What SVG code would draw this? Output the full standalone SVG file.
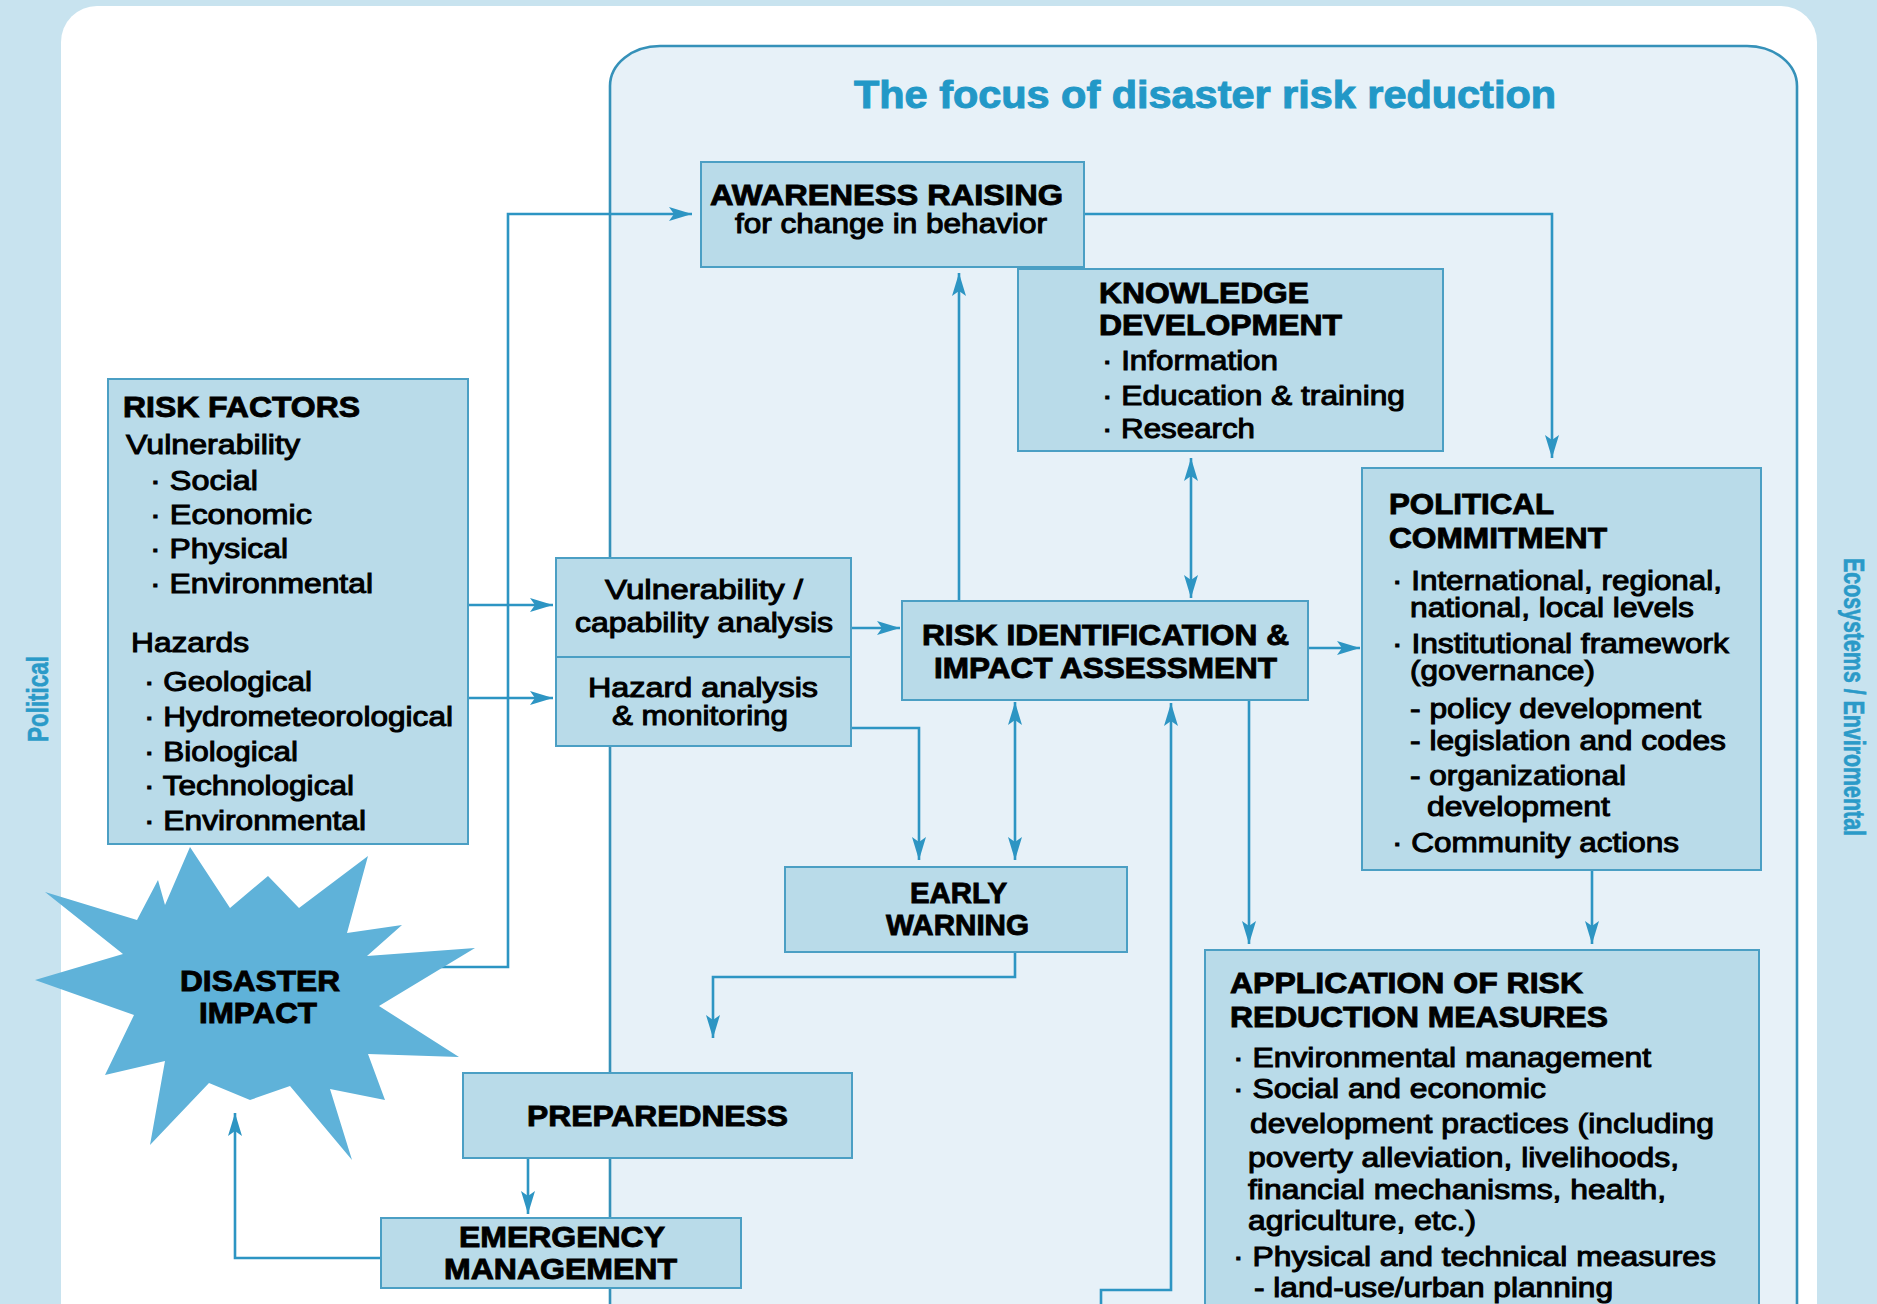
<svg xmlns="http://www.w3.org/2000/svg" width="1877" height="1304" viewBox="0 0 1877 1304">
<style>
.h{font-family:"Liberation Sans",Arial,sans-serif;font-weight:700;font-size:29px;fill:#000;stroke:#000;stroke-width:0.9}
.b{font-family:"Liberation Sans",Arial,sans-serif;font-weight:400;font-size:27px;fill:#000;stroke:#000;stroke-width:1}
.side{font-family:"Liberation Sans",Arial,sans-serif;font-weight:700;font-size:30px;fill:#2a9ac8;stroke:#2a9ac8;stroke-width:0.6}
.title{font-family:"Liberation Sans",Arial,sans-serif;font-weight:700;font-size:38px;fill:#2298c7;stroke:#2298c7;stroke-width:1}
.node{fill:#b9dbe9;stroke:#4b9fc4;stroke-width:2}
.con{fill:none;stroke:#2d95c3;stroke-width:2.6}
</style>
<defs>
<marker id="ah" viewBox="0 0 23 14" refX="23" refY="7" markerWidth="23" markerHeight="14" markerUnits="userSpaceOnUse" orient="auto-start-reverse">
<path d="M0,0 L23,7 L0,14 L5,7 z" fill="#2d95c3"/>
</marker>
</defs>
<rect x="0" y="0" width="1877" height="1304" fill="#c8e3ef"/>
<rect x="61" y="6" width="1756" height="1340" rx="36" ry="36" fill="#ffffff"/>
<g id="focus">
<rect x="610" y="46" width="1187" height="1300" rx="50" ry="40" fill="#e7f1f8" stroke="#3591b9" stroke-width="2.6"/>
<text class="title" x="854" y="108" textLength="702" lengthAdjust="spacingAndGlyphs">The focus of disaster risk reduction</text>
</g>
<g id="side-labels">
<text class="side" transform="translate(48,699) rotate(-90)" text-anchor="middle" textLength="86" lengthAdjust="spacingAndGlyphs">Political</text>
<text class="side" transform="translate(1844,697) rotate(90)" text-anchor="middle" textLength="278" lengthAdjust="spacingAndGlyphs">Ecosystems / Enviromental</text>
</g>
<g id="connectors">
<path class="con" d="M430,967 H508 V214 H692" marker-end="url(#ah)"/>
<path class="con" d="M1084,214 H1552 V458" marker-end="url(#ah)"/>
<path class="con" d="M959,601 V273" marker-end="url(#ah)"/>
<path class="con" d="M1191,458 V598" marker-start="url(#ah)" marker-end="url(#ah)"/>
<path class="con" d="M468,605 H553" marker-end="url(#ah)"/>
<path class="con" d="M468,698 H553" marker-end="url(#ah)"/>
<path class="con" d="M851,628 H900" marker-end="url(#ah)"/>
<path class="con" d="M1308,648 H1360" marker-end="url(#ah)"/>
<path class="con" d="M851,728 H919 V860" marker-end="url(#ah)"/>
<path class="con" d="M1015,702 V860" marker-start="url(#ah)" marker-end="url(#ah)"/>
<path class="con" d="M1101,1310 V1290 H1171 V703" marker-end="url(#ah)"/>
<path class="con" d="M1249,700 V944" marker-end="url(#ah)"/>
<path class="con" d="M1592,870 V944" marker-end="url(#ah)"/>
<path class="con" d="M1015,952 V977 H713 V1038" marker-end="url(#ah)"/>
<path class="con" d="M528,1158 V1214" marker-end="url(#ah)"/>
<path class="con" d="M381,1258 H235 V1113" marker-end="url(#ah)"/>
</g>
<g id="disaster-impact">
<polygon fill="#5fb2d9" points="379,1006 459,1057 368,1054 385,1100 330,1089 352,1160 290,1086 250,1100 209,1083 150,1145 165,1061 105,1075 134,1015 35,980 123,954 45,892 137,920 158,880 165,905 190,847 230,908 268,876 299,908 368,856 347,933 402,925 367,956 475,948"/>
<text class="h" x="180" y="991" textLength="160" lengthAdjust="spacingAndGlyphs" font-size="24">DISASTER</text>
<text class="h" x="199" y="1023" textLength="118" lengthAdjust="spacingAndGlyphs" font-size="24">IMPACT</text>
</g>
<g id="awareness-raising">
<rect class="node" x="701" y="162" width="383" height="105"/>
<text class="h" x="710" y="205" textLength="353" lengthAdjust="spacingAndGlyphs" font-size="28">AWARENESS RAISING</text>
<text class="b" x="735" y="233" textLength="312" lengthAdjust="spacingAndGlyphs" font-size="26">for change in behavior</text>
</g>
<g id="knowledge-development">
<rect class="node" x="1018" y="269" width="425" height="182"/>
<text class="h" x="1099" y="303" textLength="210" lengthAdjust="spacingAndGlyphs">KNOWLEDGE</text>
<text class="h" x="1099" y="335" textLength="243" lengthAdjust="spacingAndGlyphs">DEVELOPMENT</text>
<text class="b" x="1102" y="370" textLength="176" lengthAdjust="spacingAndGlyphs">· Information</text>
<text class="b" x="1102" y="405" textLength="303" lengthAdjust="spacingAndGlyphs">· Education &amp; training</text>
<text class="b" x="1102" y="438" textLength="153" lengthAdjust="spacingAndGlyphs">· Research</text>
</g>
<g id="risk-factors">
<rect class="node" x="108" y="379" width="360" height="465"/>
<text class="h" x="123" y="417" textLength="237" lengthAdjust="spacingAndGlyphs">RISK FACTORS</text>
<text class="b" x="126" y="454" textLength="174" lengthAdjust="spacingAndGlyphs">Vulnerability</text>
<text class="b" x="150" y="490" textLength="108" lengthAdjust="spacingAndGlyphs">· Social</text>
<text class="b" x="150" y="524" textLength="162" lengthAdjust="spacingAndGlyphs">· Economic</text>
<text class="b" x="150" y="558" textLength="138" lengthAdjust="spacingAndGlyphs">· Physical</text>
<text class="b" x="150" y="593" textLength="223" lengthAdjust="spacingAndGlyphs">· Environmental</text>
<text class="b" x="131" y="652" textLength="118" lengthAdjust="spacingAndGlyphs">Hazards</text>
<text class="b" x="144" y="691" textLength="168" lengthAdjust="spacingAndGlyphs">· Geological</text>
<text class="b" x="144" y="726" textLength="309" lengthAdjust="spacingAndGlyphs">· Hydrometeorological</text>
<text class="b" x="144" y="761" textLength="154" lengthAdjust="spacingAndGlyphs">· Biological</text>
<text class="b" x="144" y="795" textLength="210" lengthAdjust="spacingAndGlyphs">· Technological</text>
<text class="b" x="144" y="830" textLength="222" lengthAdjust="spacingAndGlyphs">· Environmental</text>
</g>
<g id="vulnerability-analysis">
<rect class="node" x="556" y="558" width="295" height="99"/>
<text class="b" x="605" y="599" textLength="198" lengthAdjust="spacingAndGlyphs">Vulnerability /</text>
<text class="b" x="575" y="632" textLength="258" lengthAdjust="spacingAndGlyphs">capability analysis</text>
</g>
<g id="hazard-analysis">
<rect class="node" x="556" y="657" width="295" height="89"/>
<text class="b" x="588" y="697" textLength="230" lengthAdjust="spacingAndGlyphs">Hazard analysis</text>
<text class="b" x="612" y="725" textLength="176" lengthAdjust="spacingAndGlyphs">&amp; monitoring</text>
</g>
<g id="risk-identification">
<rect class="node" x="902" y="601" width="406" height="99"/>
<text class="h" x="922" y="645" textLength="367" lengthAdjust="spacingAndGlyphs" font-size="28">RISK IDENTIFICATION &amp;</text>
<text class="h" x="934" y="678" textLength="343" lengthAdjust="spacingAndGlyphs" font-size="28">IMPACT ASSESSMENT</text>
</g>
<g id="political-commitment">
<rect class="node" x="1362" y="468" width="399" height="402"/>
<text class="h" x="1389" y="514" textLength="165" lengthAdjust="spacingAndGlyphs">POLITICAL</text>
<text class="h" x="1389" y="548" textLength="218" lengthAdjust="spacingAndGlyphs">COMMITMENT</text>
<text class="b" x="1392" y="590" textLength="330" lengthAdjust="spacingAndGlyphs">· International, regional,</text>
<text class="b" x="1410" y="617" textLength="284" lengthAdjust="spacingAndGlyphs">national, local levels</text>
<text class="b" x="1392" y="653" textLength="337" lengthAdjust="spacingAndGlyphs">· Institutional framework</text>
<text class="b" x="1410" y="680" textLength="185" lengthAdjust="spacingAndGlyphs">(governance)</text>
<text class="b" x="1410" y="718" textLength="291" lengthAdjust="spacingAndGlyphs">- policy development</text>
<text class="b" x="1410" y="750" textLength="316" lengthAdjust="spacingAndGlyphs">- legislation and codes</text>
<text class="b" x="1410" y="785" textLength="216" lengthAdjust="spacingAndGlyphs">- organizational</text>
<text class="b" x="1427" y="816" textLength="183" lengthAdjust="spacingAndGlyphs">development</text>
<text class="b" x="1392" y="852" textLength="287" lengthAdjust="spacingAndGlyphs">· Community actions</text>
</g>
<g id="early-warning">
<rect class="node" x="785" y="867" width="342" height="85"/>
<text class="h" x="910" y="903" textLength="97" lengthAdjust="spacingAndGlyphs" font-size="24">EARLY</text>
<text class="h" x="886" y="935" textLength="143" lengthAdjust="spacingAndGlyphs" font-size="24">WARNING</text>
</g>
<g id="application">
<rect class="node" x="1205" y="950" width="554" height="380"/>
<text class="h" x="1230" y="993" textLength="353" lengthAdjust="spacingAndGlyphs">APPLICATION OF RISK</text>
<text class="h" x="1230" y="1027" textLength="378" lengthAdjust="spacingAndGlyphs">REDUCTION MEASURES</text>
<text class="b" x="1233" y="1067" textLength="418" lengthAdjust="spacingAndGlyphs">· Environmental management</text>
<text class="b" x="1233" y="1098" textLength="313" lengthAdjust="spacingAndGlyphs">· Social and economic</text>
<text class="b" x="1250" y="1133" textLength="464" lengthAdjust="spacingAndGlyphs">development practices (including</text>
<text class="b" x="1248" y="1167" textLength="431" lengthAdjust="spacingAndGlyphs">poverty alleviation, livelihoods,</text>
<text class="b" x="1248" y="1199" textLength="418" lengthAdjust="spacingAndGlyphs">financial mechanisms, health,</text>
<text class="b" x="1248" y="1230" textLength="228" lengthAdjust="spacingAndGlyphs">agriculture, etc.)</text>
<text class="b" x="1233" y="1266" textLength="483" lengthAdjust="spacingAndGlyphs">· Physical and technical measures</text>
<text class="b" x="1254" y="1297" textLength="359" lengthAdjust="spacingAndGlyphs">- land-use/urban planning</text>
</g>
<g id="preparedness">
<rect class="node" x="463" y="1073" width="389" height="85"/>
<text class="h" x="527" y="1126" textLength="261" lengthAdjust="spacingAndGlyphs">PREPAREDNESS</text>
</g>
<g id="emergency-management">
<rect class="node" x="381" y="1218" width="360" height="70"/>
<text class="h" x="459" y="1247" textLength="206" lengthAdjust="spacingAndGlyphs" font-size="27">EMERGENCY</text>
<text class="h" x="444" y="1279" textLength="233" lengthAdjust="spacingAndGlyphs" font-size="27">MANAGEMENT</text>
</g>
</svg>
